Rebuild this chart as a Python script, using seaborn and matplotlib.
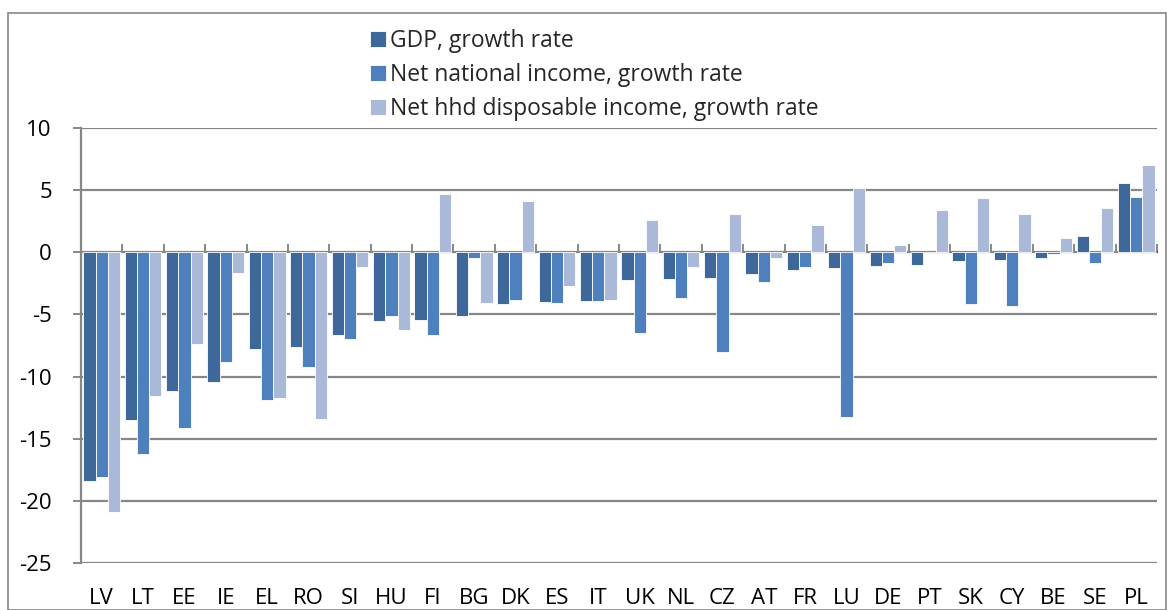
import numpy as np
import pandas as pd
import matplotlib
matplotlib.use("Agg")
import matplotlib.pyplot as plt
from matplotlib.patches import Rectangle
import seaborn as sns

countries = ["LV", "LT", "EE", "IE", "EL", "RO", "SI", "HU", "FI", "BG", "DK", "ES", "IT",
             "UK", "NL", "CZ", "AT", "FR", "LU", "DE", "PT", "SK", "CY", "BE", "SE", "PL"]
gdp = [-18.4, -13.5, -11.2, -10.4, -7.8, -7.6, -6.65, -5.55, -5.45, -5.1, -4.2, -4.0, -3.9,
       -2.25, -2.15, -2.1, -1.75, -1.45, -1.3, -1.1, -1.05, -0.72, -0.62, -0.45, 1.28, 5.55]
nni = [-18.1, -16.2, -14.1, -8.8, -11.9, -9.2, -6.95, -5.1, -6.65, -0.5, -3.85, -4.1, -3.9,
       -6.5, -3.65, -8.0, -2.4, -1.2, -13.25, -0.83, 0.0, -4.15, -4.35, -0.1, -0.83, 4.45]
hhd = [-20.9, -11.55, -7.35, -1.65, -11.7, -13.45, -1.2, -6.25, 4.7, -4.05, 4.1, -2.75, -3.8,
       2.6, -1.2, 3.1, -0.45, 2.2, 5.15, 0.55, 3.4, 4.4, 3.1, 1.17, 3.55, 7.05]
series_names = ["GDP, growth rate",
                "Net national income, growth rate",
                "Net hhd disposable income, growth rate"]
y_ticks = [10, 5, 0, -5, -10, -15, -20, -25]

colors = ["#3E6899", "#4E80BD", "#AAB9D7"]
grid_col = "#878787"

df = pd.DataFrame({
    "country": countries * 3,
    "value": gdp + nni + hhd,
    "series": [series_names[0]] * len(countries)
              + [series_names[1]] * len(countries)
              + [series_names[2]] * len(countries),
})

sns.set_theme(style="white")
plt.rcParams["font.family"] = ["Open Sans", "DejaVu Sans"]
plt.rcParams["axes.unicode_minus"] = False

fig = plt.figure(figsize=(11.67, 6.10), dpi=100)
ax = fig.add_axes([81 / 1167, 1 - 563 / 610, (1157 - 81) / 1167, (563 - 128) / 610])

sns.barplot(data=df, x="country", y="value", hue="series", order=countries,
            hue_order=series_names, palette=colors, saturation=1, width=0.89,
            edgecolor="white", linewidth=0.6, ax=ax, zorder=3)

ymin, ymax = -25, 10
ax.set_ylim(ymin, ymax)
ax.set_xlim(-0.5, len(countries) - 0.5)
ax.set_yticks(y_ticks)
ax.yaxis.grid(True, color=grid_col, linewidth=1.6, zorder=0)
ax.set_axisbelow(True)
ax.set_xlabel("")
ax.set_ylabel("")

for side in ["top", "right", "bottom"]:
    ax.spines[side].set_visible(False)
ax.spines["left"].set_color(grid_col)
ax.spines["left"].set_linewidth(1.6)

ax.tick_params(axis="y", which="major", direction="out", length=6, width=1.4,
               color=grid_col, labelsize=16, labelcolor="black", pad=15, left=True)
ax.tick_params(axis="x", which="major", length=0, labelsize=16, labelcolor="black", pad=18)

# horizontal category axis crossing at zero, with ticks between categories
zero_pos = (0 - ymin) / (ymax - ymin)
sec = ax.secondary_xaxis(zero_pos)
sec.set_xticks(np.arange(-0.5, len(countries), 1.0))
sec.set_xticklabels([])
sec.tick_params(direction="out", length=6, width=1.4, color=grid_col)
sec.spines["bottom"].set_color(grid_col)
sec.spines["bottom"].set_linewidth(1.6)

leg = ax.legend(loc="upper left", bbox_to_anchor=(370 / 1167, 1 - 29 / 610),
                bbox_transform=fig.transFigure, frameon=False, fontsize=16.5,
                handlelength=0.68, handleheight=0.68, handletextpad=0.2,
                labelspacing=0.43, borderaxespad=0, borderpad=0)
for h in leg.legend_handles:
    h.set_edgecolor("white")

# chart frame
fig.patches.append(Rectangle((8 / 1167, 0), 1 - 9 / 1167, 1 - 13 / 610,
                             transform=fig.transFigure, fill=False,
                             edgecolor=grid_col, linewidth=1.2))

fig.savefig("out.png", dpi=100)
